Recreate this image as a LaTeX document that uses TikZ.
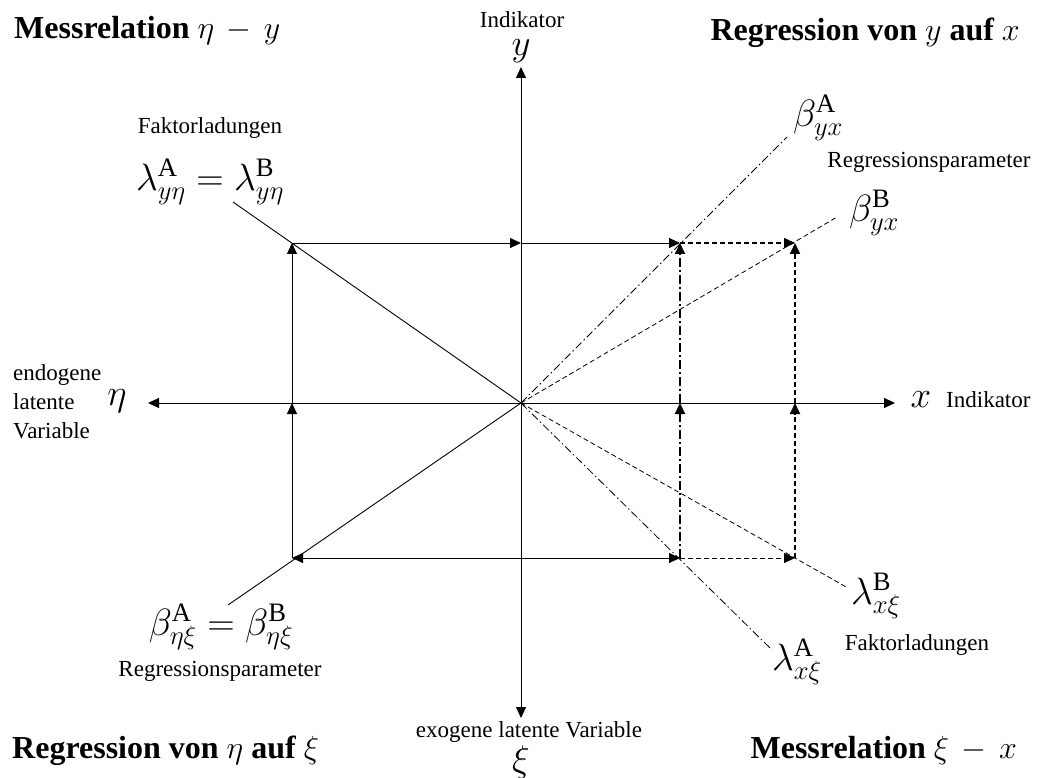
\RequirePackage{fix-cm}
\documentclass[tikz,border=0pt]{standalone}
\usepackage{fontspec}
\setmainfont{Liberation Serif}
\usetikzlibrary{arrows.meta}

\begin{document}
\begin{tikzpicture}[
            x=1pt, y=-1pt,
            lbl/.style={font=\fontsize{23}{29}\selectfont, inner sep=0pt, align=left},
            ttl/.style={font=\fontsize{32}{34}\selectfont\bfseries, inner sep=0pt},
            sym/.style={font=\fontsize{38}{40}\selectfont, inner sep=0pt},
            axl/.style={font=\fontsize{37}{40}\selectfont, inner sep=0pt},
            tip/.style={-{Triangle[length=11pt, width=10pt]}},
            thin line/.style={line width=0.9pt},
            dashA/.style={line width=0.8pt, dash pattern=on 8pt off 3pt on 1.5pt off 3pt},
            dashB/.style={line width=0.8pt, dash pattern=on 5pt off 3pt},
            thickA/.style={line width=1.8pt, dash pattern=on 9pt off 3pt on 2pt off 3pt},
            thickB/.style={line width=1.8pt, dash pattern=on 5pt off 3pt},
        ]
        \useasboundingbox (0,0) rectangle (1037,778);
        % origin, rectangle corners and mid points
        \coordinate (O) at (521,403);
        \coordinate (ul) at (292,243);
        \coordinate (ml) at (292,403);
        \coordinate (ll) at (292,558);
        \coordinate (tm) at (521,243);
        \coordinate (bm) at (521,558);
        \coordinate (ua) at (680,243);
        \coordinate (ma) at (680,403);
        \coordinate (la) at (680,558);
        \coordinate (ub) at (795,243);
        \coordinate (mb) at (795,403);
        \coordinate (lb) at (795,558);
        % axis ends
        \coordinate (xl) at (148,403);
        \coordinate (xr) at (895,403);
        \coordinate (yt) at (521,67);
        \coordinate (yb) at (521,718);
        % free ends of the diagonals
        \coordinate (lamEnd) at (233,202);
        \coordinate (betEnd) at (228,605);
        \coordinate (byxA) at (787,137);
        \coordinate (byxB) at (837,217);
        \coordinate (lxA) at (772,650);
        \coordinate (lxB) at (848,588);

        % titles
        \node[ttl, anchor=base west] (messY) at (14,39) {Messrelation $\eta\,-\,y$};
        \node[ttl, anchor=base east] (regYX) at (1020,41) {Regression von $y$ auf $x$};
        \node[ttl, anchor=base west] (regEX) at (12,758) {Regression von $\eta$ auf $\xi$};
        \node[ttl, anchor=base east] (messX) at (1017,758) {Messrelation $\xi\,-\,x$};

        % axis labels
        \node[lbl, anchor=base] (indY) at (522,28) {Indikator};
        \node[axl] (yLab) at (521,51) {$y$};
        \node[lbl, anchor=base] (exo) at (529,737) {exogene latente Variable};
        \node[axl] (xiLab) at (521,762) {$\xi$};
        \node[axl] (etaLab) at (117,401) {$\eta$};
        \node[lbl, anchor=west] (endo) at (13,402) {endogene\\latente\\Variable};
        \node[axl] (xLab) at (921,400) {$x$};
        \node[lbl, anchor=base west] (indX) at (946,407) {Indikator};

        % parameter labels
        \node[lbl] (fakUL) at (210,128) {Faktorladungen};
        \node[sym] (lamY) at (210,182) {$\lambda^{\mathrm{A}}_{y\eta} = \lambda^{\mathrm{B}}_{y\eta}$};
        \node[sym] (betEta) at (221,627) {$\beta^{\mathrm{A}}_{\eta\xi} = \beta^{\mathrm{B}}_{\eta\xi}$};
        \node[lbl] (regLL) at (220,671) {Regressionsparameter};
        \node[sym] (bA) at (818,118) {$\beta^{\mathrm{A}}_{yx}$};
        \node[lbl] (regUR) at (929,162) {Regressionsparameter};
        \node[sym] (bB) at (874,213) {$\beta^{\mathrm{B}}_{yx}$};
        \node[sym] (lB) at (876,596) {$\lambda^{\mathrm{B}}_{x\xi}$};
        \node[lbl] (fakLR) at (917,645) {Faktorladungen};
        \node[sym] (lA) at (797,662) {$\lambda^{\mathrm{A}}_{x\xi}$};

        % axes
        \draw[thin line, {Triangle[length=11pt, width=10pt]}-{Triangle[length=11pt, width=10pt]}] (xl) -- (xr);
        \draw[thin line, {Triangle[length=11pt, width=10pt]}-{Triangle[length=11pt, width=10pt]}] (yt) -- (yb);

        % diagonals
        \draw[thin line] (lamEnd) -- (O);
        \draw[thin line] (betEnd) -- (O);
        \draw[dashA] (O) -- (byxA);
        \draw[dashB] (O) -- (byxB);
        \draw[dashA] (O) -- (lxA);
        \draw[dashB] (O) -- (lxB);

        % left and top/bottom sides
        \draw[thin line, tip] (ll) -- (ml);
        \draw[thin line, tip] (ml) -- (ul);
        \draw[thin line, tip] (ul) -- (tm);
        \draw[thin line, tip] (tm) -- (ua);
        \draw[thin line, tip] (bm) -- (ll);
        \draw[thin line, tip] (bm) -- (la);
        \draw[line width=1.5pt, dash pattern=on 5pt off 3pt, tip] (ua) -- (ub);
        \draw[line width=1pt, dash pattern=on 5pt off 3pt, tip] (la) -- (lb);

        % right verticals
        \draw[thickA, tip] (la) -- (ma);
        \draw[thickA, tip] (ma) -- (ua);
        \draw[thickB, tip] (lb) -- (mb);
        \draw[thickB, tip] (mb) -- (ub);
    \end{tikzpicture}
\end{document}
